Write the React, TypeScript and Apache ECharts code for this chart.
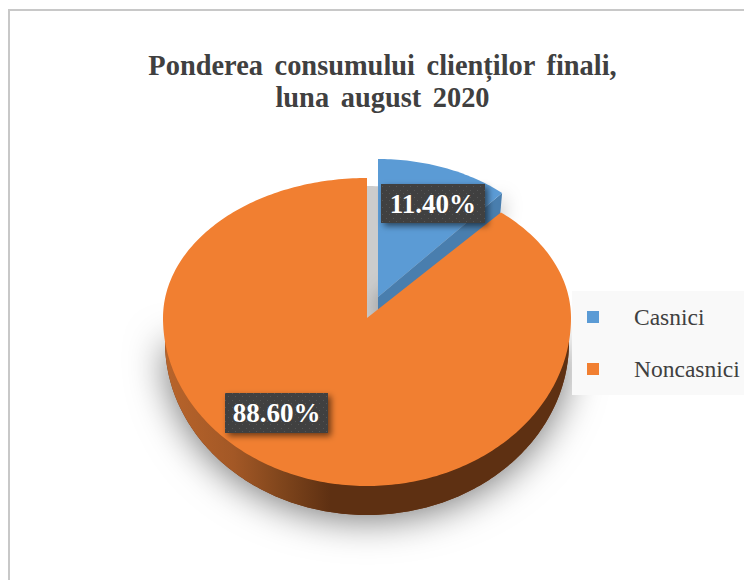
import React, { useEffect, useRef } from "react";
import * as echarts from "echarts";

const titleLines = ["Ponderea consumului clienților finali,", "luna august 2020"];
const categories = ["Casnici", "Noncasnici"];
const shares = [11.4, 88.6];
const sliceColors = ["#5b9bd5", "#f17f31"];

const SERIF = '"Liberation Serif", "Times New Roman", serif';
const total = shares.reduce((a, b) => a + b, 0);

type Ell = { cx: number; cy: number; rx: number; ryT: number; ryB: number };
const orangeTop: Ell = { cx: 367, cy: 318, rx: 204, ryT: 140, ryB: 168 };
const orangeBase: Ell = { cx: 367, cy: 342, rx: 202, ryT: 140, ryB: 173 };
const blueTop: Ell = { cx: 378, cy: 297, rx: 189, ryT: 138, ryB: 138 };
const blueCast: Ell = { cx: 366, cy: 324, rx: 189, ryT: 138, ryB: 138 };
const blueDepth = 23;
const labelBoxes = [
  { cx: 433, cy: 203.5, w: 104, h: 39 },
  { cx: 276.5, cy: 413, w: 103, h: 40 },
];

const pt = (e: Ell, deg: number) => {
  const t = (deg * Math.PI) / 180;
  const c = Math.cos(t);
  return [e.cx + e.rx * Math.sin(t), e.cy - (c > 0 ? e.ryT : e.ryB) * c];
};
const arc = (e: Ell, a: number, b: number) => {
  const out: number[][] = [];
  const n = Math.max(8, Math.ceil(Math.abs(b - a)));
  for (let i = 0; i <= n; i++) out.push(pt(e, a + ((b - a) * i) / n));
  return out;
};
const sector = (e: Ell, a: number, b: number) => [[e.cx, e.cy], ...arc(e, a, b)];

const dotTile = () => {
  const c = document.createElement("canvas");
  c.width = 7;
  c.height = 7;
  const g = c.getContext("2d")!;
  g.fillStyle = "#404040";
  g.fillRect(0, 0, 7, 7);
  g.fillStyle = "#545454";
  g.fillRect(1, 1, 1, 1);
  g.fillRect(4, 4, 1, 1);
  return c;
};

const sideFill = () =>
  new echarts.graphic.LinearGradient(0, 0, 1, 0, [
    { offset: 0, color: "#b8642b" },
    { offset: 0.17, color: "#a35826" },
    { offset: 0.29, color: "#7f451c" },
    { offset: 0.41, color: "#5e3012" },
    { offset: 1, color: "#5e3012" },
  ]);

const labelEls = (i: number, tile: HTMLCanvasElement) => {
  const b = labelBoxes[i];
  return [
    {
      type: "rect",
      z2: 20,
      shape: { x: b.cx - b.w / 2, y: b.cy - b.h / 2, width: b.w, height: b.h },
      style: {
        fill: { image: tile, repeat: "repeat" },
        shadowBlur: 6,
        shadowOffsetX: 3,
        shadowOffsetY: 3,
        shadowColor: "rgba(0,0,0,0.55)",
      },
    },
    {
      type: "text",
      z2: 21,
      style: {
        x: b.cx,
        y: b.cy,
        text: shares[i].toFixed(2) + "%",
        fill: "#ffffff",
        font: `bold 27px ${SERIF}`,
        align: "center",
        verticalAlign: "middle",
      },
    },
  ];
};

export default function App() {
  const ref = useRef<HTMLDivElement>(null);
  useEffect(() => {
    document.body.style.margin = "0";
    document.body.style.overflow = "hidden";
    const chart = echarts.init(ref.current!, null, { renderer: "svg" });
    const tile = dotTile();

    chart.setOption({
      animation: false,
      backgroundColor: "#ffffff",
      title: {
        text: titleLines.join("\n"),
        left: 377.5,
        top: 44,
        textAlign: "center",
        textStyle: {
          fontFamily: SERIF,
          fontWeight: "bold",
          fontSize: 28.4,
          lineHeight: 32.5,
          color: "#404040",
        },
      },
      legend: {
        orient: "vertical",
        left: 572,
        top: 291,
        padding: [14, 12, 14, 15],
        backgroundColor: "#f9f9f9",
        itemWidth: 12,
        itemHeight: 12,
        itemGap: 28,
        icon: "rect",
        selectedMode: false,
        data: categories,
        textStyle: {
          fontFamily: SERIF,
          fontSize: 23.5,
          color: "#404040",
          padding: [0, 0, 0, 30],
        },
      },
      graphic: [
        {
          type: "rect",
          silent: true,
          z: 0,
          shape: { x: 9, y: 10, width: 900, height: 900 },
          style: { fill: "none", stroke: "#c8c8c8", lineWidth: 2 },
        },
      ],
      series: [
        {
          type: "custom",
          name: "shadow",
          coordinateSystem: "none",
          silent: true,
          z: 2,
          data: [[shares[0]]],
          renderItem: (_p: any, api: any) => {
            const a = (api.value(0) / total) * 360;
            return {
              type: "group",
              children: [
                {
                  type: "polygon",
                  shape: { points: arc(orangeBase, 90, 270) },
                  style: {
                    fill: "#5e3012",
                    shadowBlur: 38,
                    shadowOffsetX: 0,
                    shadowOffsetY: 4,
                    shadowColor: "rgba(0,0,0,0.55)",
                  },
                },
                {
                  type: "polygon",
                  shape: { points: sector(blueCast, 0, a) },
                  style: {
                    fill: "#cccccc",
                  },
                },
              ],
            };
          },
        },
        {
          type: "custom",
          name: categories[0],
          coordinateSystem: "none",
          silent: true,
          z: 3,
          itemStyle: { color: sliceColors[0] },
          data: [[shares[0]]],
          renderItem: (_p: any, api: any) => {
            const a = (api.value(0) / total) * 360;
            const end = pt(blueTop, a);
            const apex = [blueTop.cx, blueTop.cy];
            return {
              type: "group",
              children: [
                {
                  type: "polygon",
                  shape: { points: [apex, end, [end[0] - 2, end[1] + blueDepth], [apex[0], apex[1] + blueDepth]] },
                  style: {
                    fill: "#4a7eae",
                    shadowBlur: 20,
                    shadowOffsetY: 3,
                    shadowColor: "rgba(0,0,0,0.35)",
                  },
                },
                {
                  type: "polygon",
                  shape: { points: sector(blueTop, 0, a) },
                  style: { fill: sliceColors[0] },
                },
              ],
            };
          },
        },
        {
          type: "custom",
          name: categories[1],
          coordinateSystem: "none",
          silent: true,
          z: 3,
          itemStyle: { color: sliceColors[1] },
          data: [[shares[1]]],
          renderItem: (_p: any, api: any) => {
            const a = (api.value(0) / total) * 360;
            return {
              type: "group",
              children: [
                { type: "polygon", shape: { points: arc(orangeBase, 90, 270) }, style: { fill: sideFill() } },
                { type: "polygon", shape: { points: sector(orangeTop, 360 - a, 360) }, style: { fill: sliceColors[1] } },
              ],
            };
          },
        },
        {
          type: "custom",
          name: "labels",
          coordinateSystem: "none",
          silent: true,
          z: 5,
          data: [[0]],
          renderItem: () => ({
            type: "group",
            children: [...labelEls(0, tile), ...labelEls(1, tile)],
          }),
        },
      ],
    });
    return () => chart.dispose();
  }, []);
  return (
    <div
      ref={ref}
      style={{ position: "fixed", left: 0, top: 0, width: 744, height: 580, wordSpacing: "4.5px" }}
    />
  );
}
